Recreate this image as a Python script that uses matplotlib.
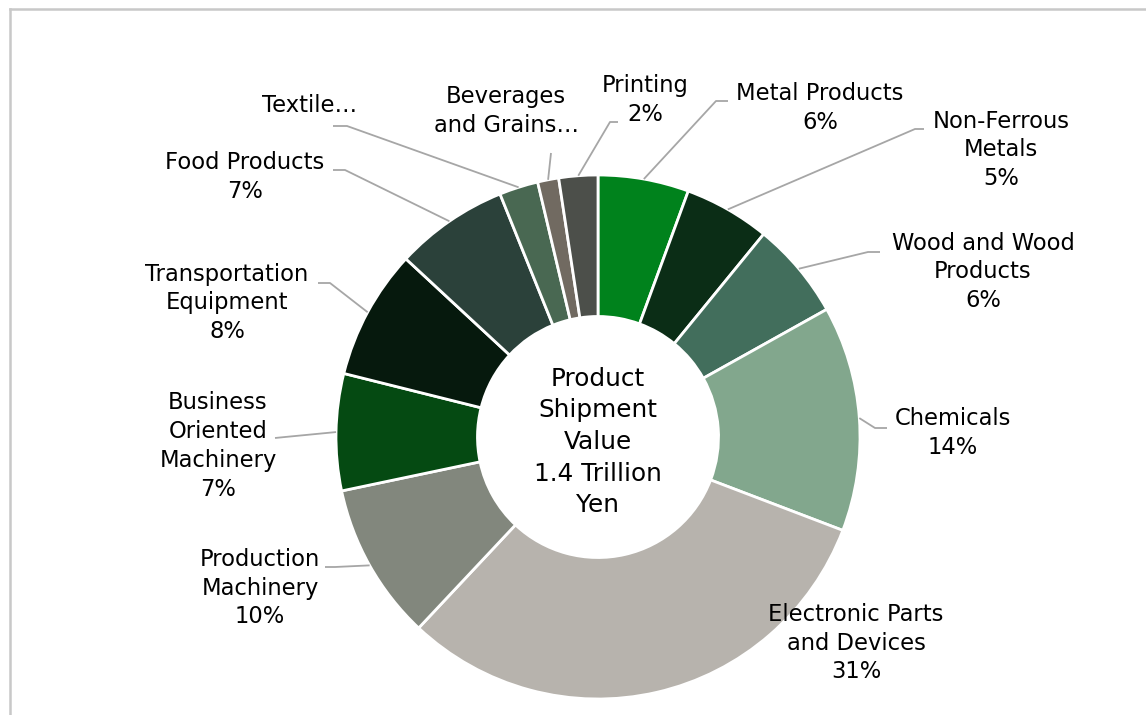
import matplotlib.pyplot as plt
import numpy as np

# shares of product shipment value (%), clockwise from 12 o'clock
categories = ['Metal Products', 'Non-Ferrous\nMetals', 'Wood and Wood\nProducts', 'Chemicals',
              'Electronic Parts\nand Devices', 'Production\nMachinery', 'Business\nOriented\nMachinery',
              'Transportation\nEquipment', 'Food Products', 'Textile…', 'Beverages\nand Grains…', 'Printing']
values = [5.6, 5.3, 6.0, 13.9, 31.2, 9.7, 7.2, 8.0, 7.0, 2.4, 1.3, 2.4]
show_pct = [True, True, True, True, True, True, True, True, True, False, False, True]
colors = ['#00821c', '#0b2d16', '#426e5c', '#82a78d', '#b7b3ad', '#82877d',
          '#054a12', '#06190d', '#2b413a', '#496852', '#716a61', '#4c4f4a']
center_text = 'Product\nShipment\nValue\n1.4 Trillion\nYen'

W, H = 1146, 715
CX, CY, R = 598, 437, 262   # pie centre and radius in pixels


def px(x, y):
    # pixel position -> data coordinates (pie radius = 1)
    return (x - CX) / R, (CY - y) / R


# label centre, line elbow, line end (pixels); None = no leader line
label_pos = [(820, 108), (1001, 150), (983, 272), (953, 433), (856, 643), (260, 588),
             (218, 446), (227, 303), (245, 177), (310, 105), (506, 111), (645, 100)]
leaders = [((716, 101), (728, 101)), ((915, 129), (924, 129)), ((868, 252), (880, 252)),
           ((875, 428), (887, 428)), None, ((335, 567), (325, 567)),
           ((285, 437), (275, 438)), ((330, 283), (318, 283)), ((345, 170), (333, 170)),
           ((347, 126), (333, 126)), ((551, 153), (551, 153)), ((610, 122), (618, 122))]

fig = plt.figure(figsize=(W / 100, H / 100), dpi=100)
ax = fig.add_axes([0, 0, 1, 1])
ax.pie(values, colors=colors, startangle=90, counterclock=False, radius=1,
       wedgeprops=dict(width=0.54, edgecolor='white', linewidth=2))
ax.set_xlim(px(0, 0)[0], px(W, 0)[0])
ax.set_ylim(px(0, H)[1], px(0, 0)[1])
ax.set_aspect('auto')
ax.axis('off')

cum = np.cumsum([0] + values[:-1])
for i, (name, v) in enumerate(zip(categories, values)):
    txt = name + (f'\n{round(v):.0f}%' if show_pct[i] else '')
    lx, ly = px(*label_pos[i])
    ax.text(lx, ly, txt, ha='center', va='center', fontsize=16.3, color='black',
            linespacing=1.33, family='DejaVu Sans')
    if leaders[i] is not None:
        ang = np.deg2rad(90 - (cum[i] + v / 2) * 3.6)
        ex, ey = px(*leaders[i][0])
        tx, ty = px(*leaders[i][1])
        ax.plot([np.cos(ang), ex, tx], [np.sin(ang), ey, ty], color='#a6a6a6', lw=1.3,
                solid_capstyle='butt')

ax.text(0, px(0, 442)[1], center_text, ha='center', va='center', fontsize=17.8,
        linespacing=1.4, color='black')

# chart frame (top and left edges visible)
fig.add_artist(plt.Line2D([10 / W, 1], [1 - 9 / H, 1 - 9 / H], color='#c8c8c8', lw=1.8))
fig.add_artist(plt.Line2D([10 / W, 10 / W], [0, 1 - 9 / H], color='#c8c8c8', lw=1.8))

fig.savefig('out.png', dpi=100, facecolor='white')
